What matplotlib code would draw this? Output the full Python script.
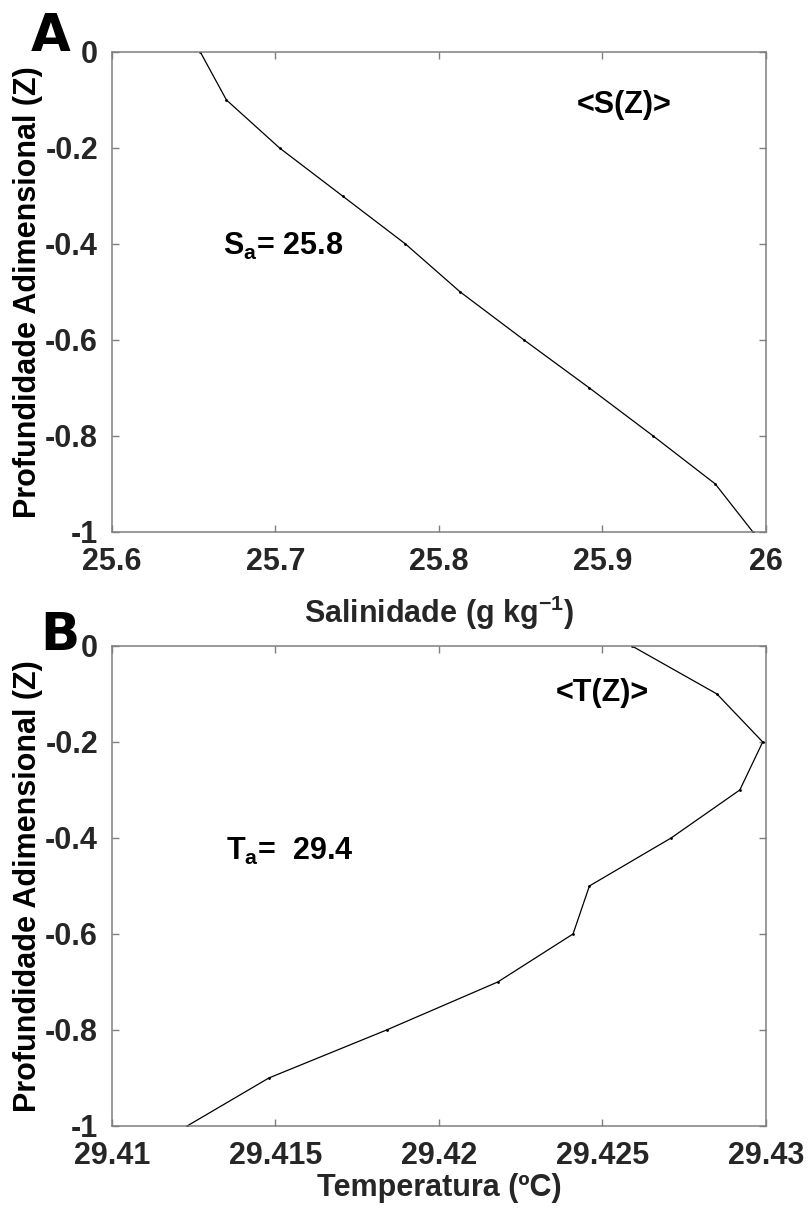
import numpy as np
import matplotlib
matplotlib.use("Agg")
import matplotlib.pyplot as plt

# Profile data
z = [0, -0.1, -0.2, -0.3, -0.4, -0.5, -0.6, -0.7, -0.8, -0.9, -1.0]
salinity = [25.654, 25.670, 25.7025, 25.741, 25.7795, 25.813, 25.852, 25.892, 25.931, 25.969, 25.992]
temperature = [29.4259, 29.4285, 29.4299, 29.4292, 29.4271, 29.4246, 29.4241, 29.4218, 29.4184, 29.4148, 29.4123]

s_ticks = [25.6, 25.7, 25.8, 25.9, 26]
s_labels = ["25.6", "25.7", "25.8", "25.9", "26"]
t_ticks = [29.41, 29.415, 29.42, 29.425, 29.43]
t_labels = ["29.41", "29.415", "29.42", "29.425", "29.43"]
z_ticks = [-1, -0.8, -0.6, -0.4, -0.2, 0]
z_labels = ["-1", "-0.8", "-0.6", "-0.4", "-0.2", "0"]

# subscripts / superscripts use the text's own font
plt.rcParams["mathtext.default"] = "regular"

FAM = ["Liberation Sans", "DejaVu Sans"]
tick_font = {"family": FAM, "weight": "bold", "size": 22}
label_font = {"family": FAM, "weight": "bold", "size": 22}

fig = plt.figure(figsize=(8.08, 12.09), dpi=100)
ax1 = fig.add_axes([0.1386, 0.5600, 0.8094, 0.397])
ax2 = fig.add_axes([0.1386, 0.0687, 0.8094, 0.397])


def style_axis(ax, xticks, xlabels):
    ax.set_ylim(-1, 0)
    ax.set_yticks(z_ticks)
    ax.set_yticklabels(z_labels, fontdict=tick_font)
    ax.set_xticks(xticks)
    ax.set_xticklabels(xlabels, fontdict=tick_font)
    ax.tick_params(direction="in", length=5, width=1, color="#7f7f7f",
                   top=True, right=True, labelcolor="#262626")
    ax.tick_params(axis="x", pad=11)
    ax.tick_params(axis="y", pad=10)
    for sp in ax.spines.values():
        sp.set_color("#7f7f7f")
        sp.set_linewidth(1.1)


# Panel A - salinity
ax1.plot(salinity, z, color="black", lw=0.9, marker=".", ms=2)
ax1.set_xlim(25.6, 26)
style_axis(ax1, s_ticks, s_labels)
ax1.set_ylabel("Profundidade Adimensional (Z)", fontdict=label_font)
ax1.yaxis.set_label_coords(-0.105, 0.5)
ax1.set_xlabel("Salinidade (g kg$^{-1}$)", fontdict=label_font, color="#262626")
ax1.xaxis.set_label_coords(0.5, -0.19)
ax1.xaxis.label.set_va("baseline")
ax1.text(25.913, -0.11, "<S(Z)>", ha="center", va="center", fontdict=label_font)
ax1.text(25.668, -0.423, "S$_{a}$= 25.8", ha="left", va="baseline", fontdict=label_font)

# Panel B - temperature
ax2.plot(temperature, z, color="black", lw=0.9, marker=".", ms=2)
ax2.set_xlim(29.41, 29.43)
style_axis(ax2, t_ticks, t_labels)
ax2.set_ylabel("Profundidade Adimensional (Z)", fontdict=label_font)
ax2.yaxis.set_label_coords(-0.105, 0.5)
ax2.set_xlabel("Temperatura (ºC)", fontdict=label_font, color="#262626")
ax2.xaxis.set_label_coords(0.5, -0.147)
ax2.xaxis.label.set_va("baseline")
ax2.text(29.425, -0.098, "<T(Z)>", ha="center", va="center", fontdict=label_font)
ax2.text(29.4135, -0.446, "T$_{a}$=  29.4", ha="left", va="baseline", fontdict=label_font)

# Panel letters
fig.text(0.038, 0.990, "A", ha="left", va="top", fontsize=37, fontweight="heavy",
         family=["DejaVu Sans"])
fig.text(0.050, 0.495, "B", ha="left", va="top", fontsize=37, fontweight="heavy",
         family=["DejaVu Sans"])

fig.savefig("out.png", dpi=100)
